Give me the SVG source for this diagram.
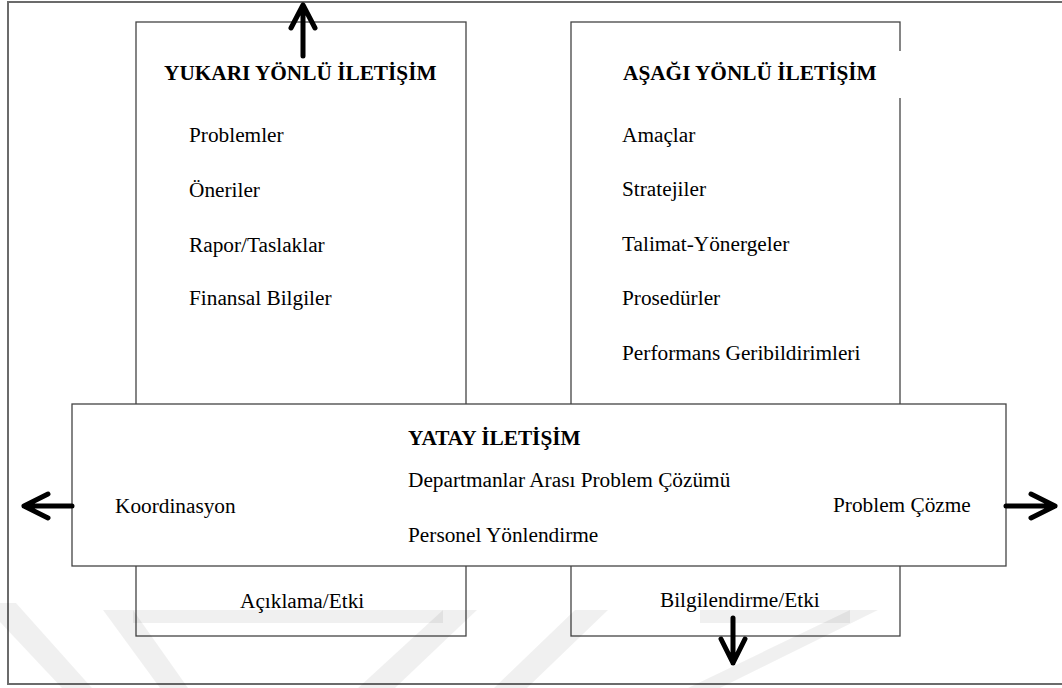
<svg xmlns="http://www.w3.org/2000/svg" width="1062" height="688" viewBox="0 0 1062 688">
  <style>
    .box { fill: #ffffff; stroke: #444444; stroke-width: 1.3; }
    .frame { fill: #ffffff; stroke: #6b6b6b; stroke-width: 2; }
    .t { font-family: "Liberation Serif", "Times New Roman", serif; font-size: 21.3px; fill: #000000; }
    .b { font-weight: bold; }
    .arrow { fill: none; stroke: #000000; stroke-width: 5; stroke-linecap: round; stroke-linejoin: round; }
    .wm { fill: #000000; fill-opacity: 0.06; }
  </style>
  <rect class="frame" x="8" y="2" width="1070" height="682"/>

  <g id="yukari">
    <rect class="box" x="136" y="22" width="330" height="614"/>
    <text class="t b" x="164" y="80">YUKARI YÖNLÜ İLETİŞİM</text>
    <text class="t" x="189" y="142">Problemler</text>
    <text class="t" x="189" y="197">Öneriler</text>
    <text class="t" x="189" y="252">Rapor/Taslaklar</text>
    <text class="t" x="189" y="305">Finansal Bilgiler</text>
    <text class="t" x="240" y="608">Açıklama/Etki</text>
  </g>

  <g id="asagi">
    <rect class="box" x="571" y="22" width="329" height="614"/>
    <rect x="600" y="51" width="306" height="47" fill="#ffffff"/>
    <text class="t b" x="623" y="80">AŞAĞI YÖNLÜ İLETİŞİM</text>
    <text class="t" x="622" y="142">Amaçlar</text>
    <text class="t" x="622" y="196">Stratejiler</text>
    <text class="t" x="622" y="251">Talimat-Yönergeler</text>
    <text class="t" x="622" y="305">Prosedürler</text>
    <text class="t" x="622" y="360">Performans Geribildirimleri</text>
    <text class="t" x="660" y="607">Bilgilendirme/Etki</text>
  </g>

  <g id="yatay">
    <rect class="box" x="72" y="404" width="934" height="162"/>
    <text class="t b" x="408" y="445">YATAY İLETİŞİM</text>
    <text class="t" x="408" y="487">Departmanlar Arası Problem Çözümü</text>
    <text class="t" x="408" y="542">Personel Yönlendirme</text>
    <text class="t" x="115" y="513">Koordinasyon</text>
    <text class="t" x="833" y="512">Problem Çözme</text>
  </g>

  <g id="connectors">
    <path class="arrow" d="M303,56 L303,5 M291,28 L303,5 L315,28"/>
    <path class="arrow" d="M72,506 L24,506 M48,494 L24,506 L48,518"/>
    <path class="arrow" d="M1006,506 L1055,506 M1031,494 L1055,506 L1031,518"/>
    <path class="arrow" d="M733,618 L733,663 M721,639 L733,663 L745,639"/>
  </g>

  <g id="watermark">
    <polygon class="wm" points="0,603 16,603 92,688 62,688 0,622"/>
    <polygon class="wm" points="103,610 133,610 188,688 160,688"/>
    <rect class="wm" x="133" y="610" width="310" height="13"/>
    <polygon class="wm" points="443,610 477,610 395,688 358,688"/>
    <polygon class="wm" points="575,610 608,610 527,688 494,688"/>
    <rect class="wm" x="700" y="610" width="150" height="13"/>
    <polygon class="wm" points="850,610 878,610 720,688 688,688"/>
  </g>
</svg>
